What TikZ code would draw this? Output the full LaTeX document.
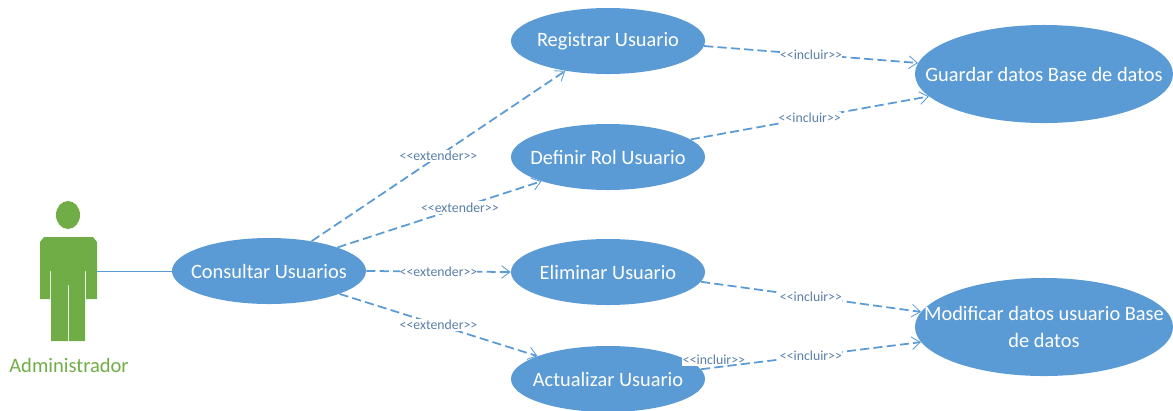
\documentclass[tikz,border=0pt]{standalone}
\usepackage{fontspec}
\setmainfont{Carlito}
\usetikzlibrary{arrows.meta,shapes.geometric}
\definecolor{casoblue}{HTML}{5B9BD5}
\definecolor{actorgreen}{HTML}{70AD47}
\definecolor{labelblue}{HTML}{5A7FA8}
\newcommand{\incluir}{<{}<incluir>{}>}
\newcommand{\extender}{<{}<extender>{}>}
\tikzset{
  caso/.style={ellipse, fill=casoblue, text=white, inner xsep=-2cm, inner ysep=-0.3cm, minimum width=4.85cm, minimum height=1.65cm, font=\fontsize{14.5}{19}\selectfont},
  casogrande/.style={caso, minimum width=6.45cm, minimum height=2.45cm, inner xsep=-3cm, align=center},
  relacion/.style={casoblue, line width=1.25pt, dash pattern=on 6.5pt off 3pt, -{Straight Barb[length=6pt,width=9pt,line width=0.6pt]}},
  etiqueta/.style={fill=white, text=labelblue, inner xsep=0pt, inner ysep=1pt, font=\fontsize{9.8}{11}\selectfont}
}
\begin{document}
\begin{tikzpicture}[x=0.025cm, y=-0.025cm]
        \useasboundingbox (0,0) rectangle (1173,410);

        % Actor
        \fill[actorgreen] (68,215) ellipse (12 and 14);
        \fill[actorgreen] (44,237) -- (93,237) -- (97,242) -- (97,299) -- (86,299) -- (86,271) -- (85,271)
            -- (85,341) -- (69,341) -- (69,285) -- (68,285) -- (68,341) -- (51,341) -- (51,271) -- (50,271)
            -- (50,299) -- (40,299) -- (40,242) -- cycle;
        \coordinate (mano) at (97,271);
        \node[text=actorgreen, font=\fontsize{14.6}{18}\selectfont] (admin) at (69,365) {Administrador};

        % Use cases
        \node[caso] (consultar) at (269,271) {Consultar Usuarios};
        \node[caso] (registrar) at (608,41) {Registrar Usuario};
        \node[caso] (definir) at (608,157) {Definir Rol Usuario};
        \node[caso] (eliminar) at (608,272) {Eliminar Usuario};
        \node[caso] (actualizar) at (608,379) {Actualizar Usuario};
        \node[casogrande] (guardar) at (1044,74) {Guardar datos Base de datos};
        \node[casogrande] (modificar) at (1044,327) {Modificar datos usuario Base\\de datos};

        % Stray label over the ellipse
        \node[etiqueta, inner xsep=1pt] (extra) at (714,360) {\phantom{\incluir}};

        % Actor line
        \draw[casoblue, line width=0.7pt] (mano) -- (consultar);

        % Extend relations
        \draw[relacion] (consultar.35) -- node[etiqueta] (ext1) {\extender} (registrar.215);
        \draw[relacion] (consultar.19) -- node[etiqueta, pos=0.6] (ext2) {\extender} (definir.200);
        \draw[relacion] (consultar.0) -- node[etiqueta] (ext3) {\extender} (eliminar.180);
        \draw[relacion] (consultar.-18) -- node[etiqueta] (ext4) {\extender} (actualizar.162);

        % Include relations
        \draw[relacion] (registrar.-3) -- node[etiqueta] (inc1) {\incluir} (guardar.175);
        \draw[relacion] (definir.12) -- node[etiqueta] (inc2) {\incluir} (guardar.191);
        \draw[relacion] (eliminar.-6) -- node[etiqueta] (inc3) {\incluir} (modificar.173);
        \draw[relacion] (actualizar.6) -- node[etiqueta] (inc4) {\incluir} (modificar.187);
        \node[text=labelblue, inner sep=1pt, font=\fontsize{9.8}{11}\selectfont] (extratexto) at (extra) {\incluir};
    \end{tikzpicture}
\end{document}
